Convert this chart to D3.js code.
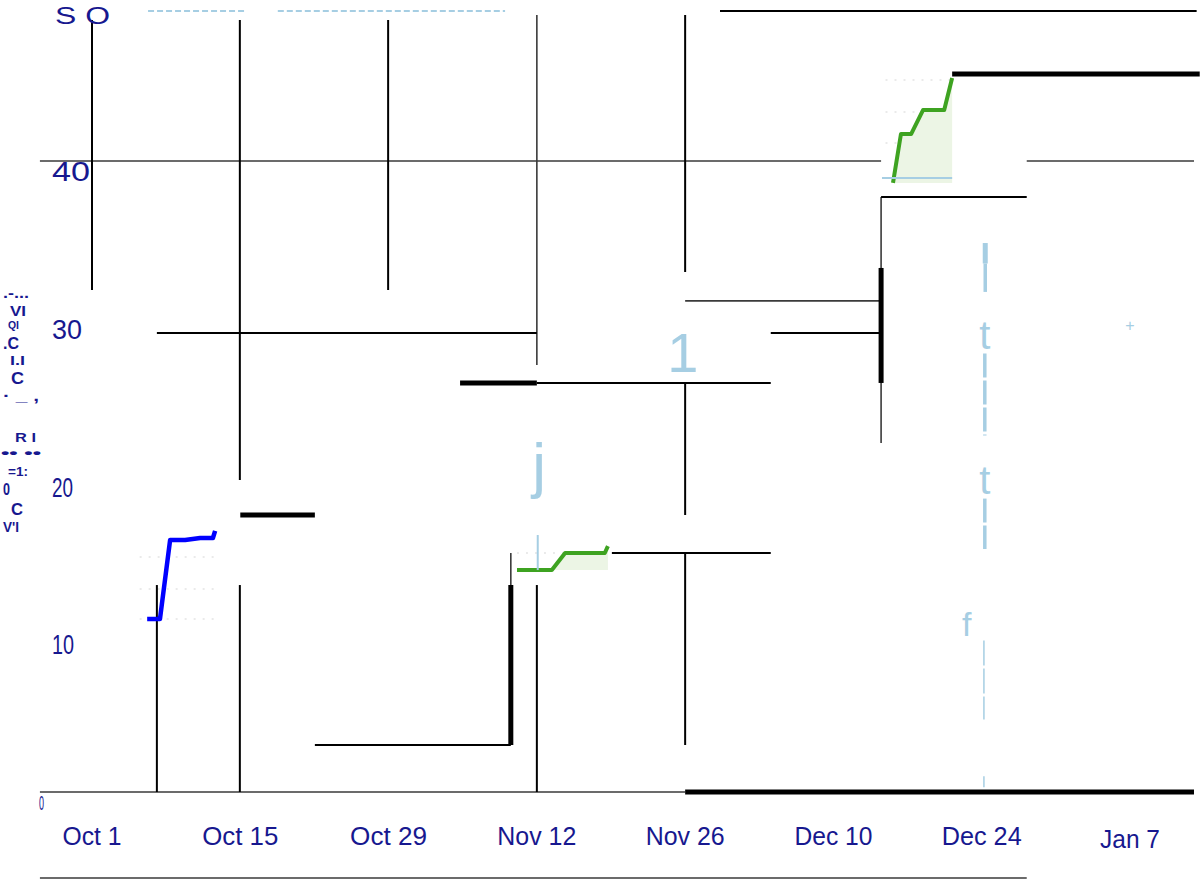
<!DOCTYPE html>
<html>
<head>
<meta charset="utf-8">
<script src="https://cdn.jsdelivr.net/npm/d3@7"></script>
<style>
  html, body { margin: 0; padding: 0; background: #fff; }
  svg { display: block; }
  text { font-family: "Liberation Sans", Arial, sans-serif; }
</style>
</head>
<body>
<div id="chart"></div>
<script>
// x values are days after Oct 1, y values in chart units
const tickDays = [0, 14, 28, 42, 56, 70, 84, 98];
const tickLabels = ["Oct 1", "Oct 15", "Oct 29", "Nov 12", "Nov 26", "Dec 10", "Dec 24", "Jan 7"];
const tickWidths = [59, 76, 77, 79, 79, 78, 80, 60];
const yTicks = [10, 20, 30, 40];
const yTickLabels = ["10", "20", "30", "40"];
const yTickWidths = [22, 21, 30, 38];

// segments: [day1, value1, day2, value2]
const blackSegs = [
  [0, 48.94, 0, 31.82], [13.97, 48.94, 13.97, 19.78], [13.97, 13.12, 13.97, 0],
  [27.95, 48.94, 27.95, 31.82], [42.01, 13.12, 42.01, 0],
  [56, 49.26, 56, 32.96], [56, 25.93, 56, 17.56], [56, 15.15, 56, 2.98],
  [6.14, 13.12, 6.14, 0], [59.29, 49.51, 104.3, 49.51],
  [6.14, 29.10, 42.01, 29.10], [42.01, 25.93, 64.1, 25.93],
  [64.1, 29.10, 74.5, 29.10], [74.5, 37.72, 88.27, 37.72],
  [49.09, 15.15, 64.1, 15.15], [21.05, 2.98, 39.56, 2.98]
];
const graySegs = [
  [-4.91, 40, 74.5, 40], [88.27, 40, 104.04, 40],
  [42.01, 49.26, 42.01, 27.07], [56, 31.13, 74.5, 31.13],
  [74.5, 37.72, 74.5, 22.12], [39.56, 15.15, 39.56, 13.12],
  [-4.91, 0, 56, 0], [-4.91, -5.45, 88.27, -5.45]
];
const thickSegs = [
  [74.5, 33.22, 74.5, 25.93], [34.74, 25.93, 42.01, 25.93],
  [14, 17.56, 21.05, 17.56], [39.56, 13.12, 39.56, 2.98],
  [81.19, 45.52, 104.6, 45.52], [56, 0, 104.04, 0]
];
const dashSegs = [[5.29, 49.51, 14.44, 49.51], [17.56, 49.51, 38.99, 49.51]];
const paleSegs = [[42.1, 16.29, 42.1, 14.07], [74.59, 38.92, 81.19, 38.92]];

// step series
const blueDays = [5.19, 6.42, 7.36, 8.78, 10.20, 11.42, 11.61];
const blueVals = [10.97, 10.97, 15.97, 15.97, 16.10, 16.10, 16.55];
const blueGrid = [10.97, 12.87, 14.90];
const greenADays = [40.12, 43.43, 44.66, 48.43, 48.72];
const greenAVals = [14.07, 14.07, 15.15, 15.15, 15.59];
const greenAGrid = [15.15];
const greenBDays = [75.62, 76.38, 77.32, 78.45, 80.44, 81.19];
const greenBVals = [38.61, 41.71, 41.71, 43.23, 43.23, 45.26];
const greenBGrid = [41.14, 43.11, 45.13];

// stray glyphs
const paleGlyphs = [
  { t: "1", d: 55.8, v: 26.6, s: 56 }, { t: "j", d: 42.2, v: 19.4, s: 62 },
  { t: "t", d: 84.3, v: 28.1, s: 40 }, { t: "t", d: 84.3, v: 18.9, s: 40 },
  { t: "f", d: 82.6, v: 9.9, s: 34 }, { t: "+", d: 98, v: 29.2, s: 16 }
];
const paleBars = [[84.35, 34.8, 33.5], [84.35, 33.5, 31.7], [84.3, 27.8, 22.6], [84.3, 18.6, 15.4]];
const paleThin = [[84.2, 9.6, 4.6], [84.2, 1.0, 0.3]];
const leftGlyphs = [
  [".-...", 3, 298, 15, 26], ["VI", 10, 316, 15, 16], ["QI", 8, 329, 11, 11],
  [".C", 3, 349, 16, 16], ["I.I", 10, 365, 13, 15], ["C", 11, 384, 17, 13],
  ["\u00b7 _ ,", 3, 401, 14, 36], ["R I", 15, 442, 13, 21], ["\u2022\u2022 \u2022\u2022", 1, 457, 13, 40],
  ["=1:", 8, 476, 13, 20], ["0", 3, 495, 17, 7], ["C", 11, 515, 17, 12], ["V'I", 3, 532, 14, 16]
];

const width = 1204, height = 882;
const start = new Date(2023, 9, 1);
const dayDate = d => d3.timeHour.offset(start, Math.round(d * 24));

const x = d3.scaleTime().domain([dayDate(0), dayDate(98)]).range([92, 1130]);
const y = d3.scaleLinear().domain([0, 40]).range([792, 161]);
const px = d => x(dayDate(d));

const svg = d3.select("#chart").append("svg")
  .attr("width", width).attr("height", height);
svg.append("rect").attr("width", width).attr("height", height).attr("fill", "#fff");

const navy = "#17188f", pale = "#a6cee3", green = "#3ea321";

// gridline dots behind series
function dots(vals, d1, d2) {
  svg.selectAll(null).data(vals).enter().append("line")
    .attr("x1", px(d1)).attr("x2", px(d2))
    .attr("y1", v => y(v)).attr("y2", v => y(v))
    .attr("stroke", "#e4e4e4").attr("stroke-width", 1.5)
    .attr("stroke-dasharray", "2,7");
}
dots(blueGrid, 4.5, 11.61);
dots(greenAGrid, 40.12, 48.72);
dots(greenBGrid, 74.9, 81.19);

function segs(data, color, w, dash) {
  svg.selectAll(null).data(data).enter().append("line")
    .attr("x1", s => px(s[0])).attr("y1", s => y(s[1]))
    .attr("x2", s => px(s[2])).attr("y2", s => y(s[3]))
    .attr("stroke", color).attr("stroke-width", w)
    .attr("stroke-dasharray", dash || null);
}
segs(graySegs, "#3a3a3a", 1.6);
segs(blackSegs, "#000", 2);
segs(thickSegs, "#000", 5);
segs(dashSegs, pale, 2.2, "6,3");

// green areas + lines
function greenSeries(days, vals, base, left) {
  const pts = days.map((d, i) => [d, vals[i]]);
  const area = d3.area().x(p => px(p[0])).y0(y(base)).y1(p => y(p[1]));
  svg.append("path").datum([[left, base]].concat(pts))
    .attr("d", area).attr("fill", "#ecf5e5");
  svg.append("path").datum(pts)
    .attr("d", d3.line().x(p => px(p[0])).y(p => y(p[1])))
    .attr("fill", "none").attr("stroke", green).attr("stroke-width", 4)
    .attr("stroke-linejoin", "round");
}
greenSeries(greenADays, greenAVals, 14.07, 40.12);
greenSeries(greenBDays, greenBVals, 38.61, 74.59);
segs(paleSegs, pale, 2);

svg.append("path").datum(blueDays.map((d, i) => [d, blueVals[i]]))
  .attr("d", d3.line().x(p => px(p[0])).y(p => y(p[1])))
  .attr("fill", "none").attr("stroke", "#0000ff").attr("stroke-width", 4.5)
  .attr("stroke-linejoin", "round");

// pale glyph strokes on the right
svg.selectAll(null).data(paleBars).enter().append("line")
  .attr("x1", b => px(b[0])).attr("x2", b => px(b[0]))
  .attr("y1", b => y(b[1])).attr("y2", b => y(b[2]))
  .attr("stroke", pale).attr("stroke-width", (b, i) => i === 0 ? 5 : 3.5)
  .attr("stroke-dasharray", (b, i) => i >= 2 ? "24,3" : null);
svg.selectAll(null).data(paleThin).enter().append("line")
  .attr("x1", b => px(b[0])).attr("x2", b => px(b[0]))
  .attr("y1", b => y(b[1])).attr("y2", b => y(b[2]))
  .attr("stroke", pale).attr("stroke-width", 1.5)
  .attr("stroke-dasharray", "25,3");
svg.selectAll(null).data(paleGlyphs).enter().append("text")
  .attr("x", g => px(g.d)).attr("y", g => y(g.v))
  .attr("text-anchor", "middle")
  .attr("font-size", g => g.s)
  .attr("font-family", g => g.t === "t" || g.t === "f" ? "DejaVu Serif, serif" : null)
  .attr("fill", pale).text(g => g.t);

// x axis labels
svg.selectAll(null).data(tickDays).enter().append("text")
  .attr("x", d => px(d)).attr("y", (d, i) => i === 7 ? 848 : 845)
  .attr("text-anchor", "middle").attr("font-size", 25)
  .attr("textLength", (d, i) => tickWidths[i]).attr("lengthAdjust", "spacingAndGlyphs")
  .attr("fill", navy).text((d, i) => tickLabels[i]);

// y axis labels
svg.selectAll(null).data(yTicks).enter().append("text")
  .attr("x", 52).attr("y", v => y(v) + 20)
  .attr("font-size", 27)
  .attr("textLength", (v, i) => yTickWidths[i]).attr("lengthAdjust", "spacingAndGlyphs")
  .attr("fill", navy).text((v, i) => yTickLabels[i]);
svg.append("text").attr("x", 55).attr("y", y(50) + 21)
  .attr("font-size", 24).attr("textLength", 55).attr("lengthAdjust", "spacingAndGlyphs")
  .attr("fill", navy).text("S O");
svg.append("text").attr("x", 39).attr("y", y(0) + 18)
  .attr("font-size", 20).attr("textLength", 5).attr("lengthAdjust", "spacingAndGlyphs")
  .attr("fill", navy).attr("font-weight", 300).text("0");

// garbled axis title
svg.selectAll(null).data(leftGlyphs).enter().append("text")
  .attr("x", g => g[1]).attr("y", g => g[2])
  .attr("font-size", g => g[3]).attr("font-weight", "bold")
  .attr("textLength", g => g[4]).attr("lengthAdjust", "spacingAndGlyphs")
  .attr("fill", navy).text(g => g[0]);
</script>
</body>
</html>
